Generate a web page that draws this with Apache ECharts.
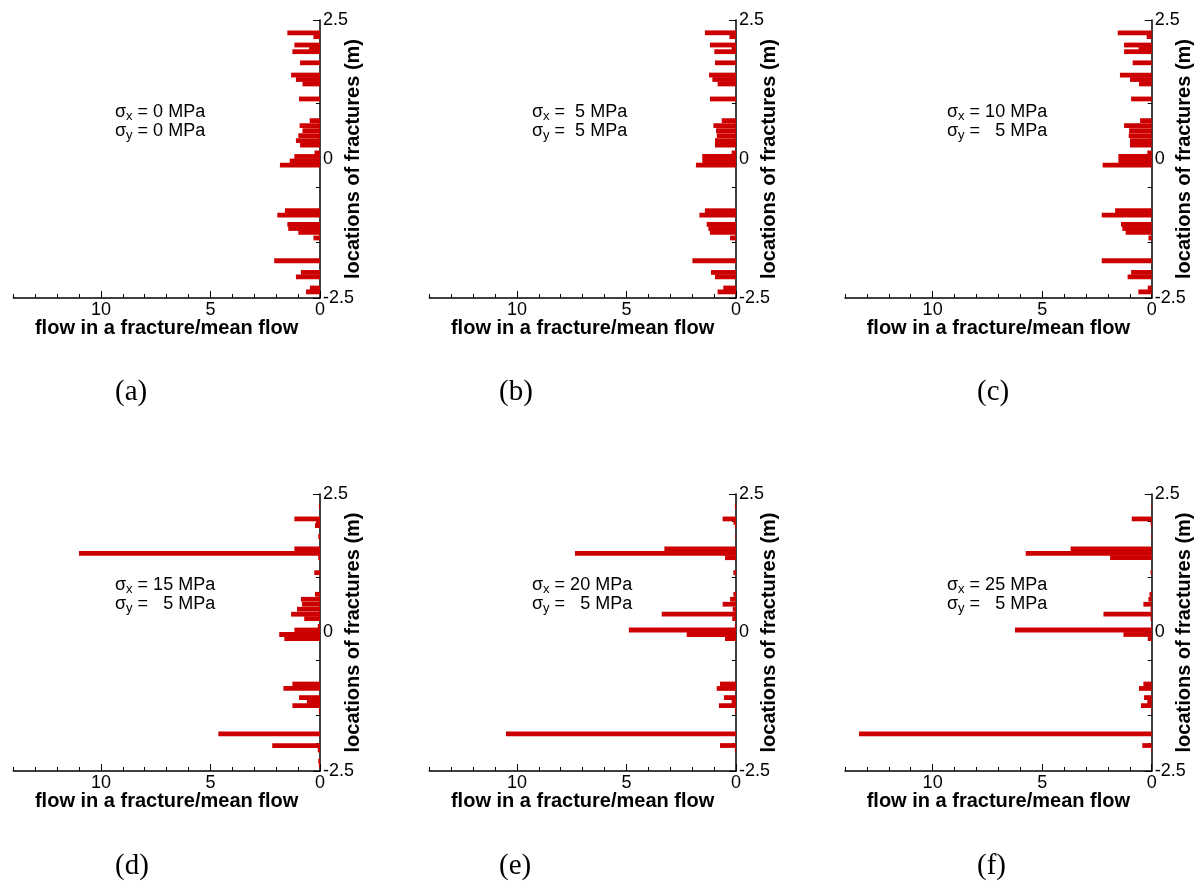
<!DOCTYPE html>
<html>
<head>
<meta charset="utf-8">
<script src="https://cdn.jsdelivr.net/npm/echarts@6/dist/echarts.min.js"></script>
<style>
  html, body { margin: 0; padding: 0; background: #ffffff; }
  #chart { width: 1204px; height: 891px; }
</style>
</head>
<body>
<div id="chart"></div>
<script>
// Fracture centre locations along the section (m), shared by every load case
const fractureLocations = [2.27, 2.20, 2.05, 1.99, 1.93, 1.73, 1.51, 1.43, 1.35, 1.08,
  0.69, 0.60, 0.51, 0.42, 0.33, 0.25, 0.11, 0.045, -0.036, -0.11,
  -0.93, -1.01, -1.175, -1.25, -1.32, -1.42, -1.83, -2.04, -2.12, -2.32, -2.39];

// Normalised flow (flow in a fracture / mean flow) for each load case
const flowA = [1.49, 0.30, 1.17, 0.50, 1.26, 0.91, 1.32, 1.10, 0.80, 0.96,
  0.47, 0.93, 0.80, 0.99, 1.10, 0.91, 0.25, 1.17, 1.38, 1.83,
  1.60, 1.95, 1.49, 1.45, 0.99, 0.30, 2.09, 0.87, 1.10, 0.46, 0.64];
const flowB = [1.42, 0.30, 1.19, 0.20, 0.99, 0.96, 1.23, 1.08, 0.84, 1.19,
  0.65, 1.03, 0.91, 0.88, 0.96, 0.96, 0.20, 1.54, 1.54, 1.83,
  1.42, 1.67, 1.34, 1.26, 1.19, 0.27, 1.99, 1.14, 0.96, 0.58, 0.84];
const flowC = [1.55, 0.23, 1.26, 0.60, 1.26, 0.87, 1.45, 0.99, 0.58, 0.94,
  0.53, 1.26, 1.03, 1.05, 0.99, 0.99, 0.20, 1.52, 1.52, 2.24,
  1.67, 2.28, 1.40, 1.34, 1.19, 0.15, 2.28, 0.94, 1.10, 0.18, 0.61];
const flowD = [0.05, 0.00, 1.17, 0.18, 0.23, 0.08, 1.17, 11.0, 0.08, 0.26,
  0.23, 0.87, 0.82, 1.05, 1.32, 0.72, 0.10, 1.17, 1.86, 1.63,
  1.26, 1.67, 0.96, 0.60, 1.26, 0.05, 4.64, 2.18, 0.10, 0.08, 0.05];
const flowE = [0.05, 0.00, 0.61, 0.12, 0.05, 0.03, 3.27, 7.35, 0.50, 0.12,
  0.12, 0.27, 0.61, 0.15, 3.39, 0.17, 0.05, 4.89, 2.25, 0.50,
  0.73, 0.88, 0.55, 0.20, 0.78, 0.05, 10.5, 0.73, 0.05, 0.00, 0.00];
const flowF = [0.03, 0.00, 0.91, 0.05, 0.03, 0.03, 3.70, 5.75, 1.90, 0.05,
  0.10, 0.15, 0.38, 0.05, 2.20, 0.05, 0.03, 6.24, 1.29, 0.18,
  0.38, 0.58, 0.35, 0.20, 0.49, 0.02, 13.36, 0.43, 0.03, 0.00, 0.00];

const panelFlows = [flowA, flowB, flowC, flowD, flowE, flowF];
const panelLetters = ['(a)', '(b)', '(c)', '(d)', '(e)', '(f)'];
const sigmaXText = [' = 0 MPa', ' =  5 MPa', ' = 10 MPa', ' = 15 MPa', ' = 20 MPa', ' = 25 MPa'];
const sigmaYText = [' = 0 MPa', ' =  5 MPa', ' =   5 MPa', ' =   5 MPa', ' =   5 MPa', ' =   5 MPa'];

const xTickLabels = [0, 5, 10];
const yTickLabels = [-2.5, 0, 2.5];

// Layout of the six panels (pixel frame of each plot area)
const BAR_HALF = 0.043;
const BAR_COLOR = '#cc0000';
const SANS = '"Liberation Sans", Arial, sans-serif';
const SERIF = '"Liberation Serif", "Times New Roman", serif';
const plotWidth = 306.7;
const axisRight = [320, 736, 1151.7];
const rowTop = [20, 494];
const rowHeight = [278, 277];

const grids = [], xAxes = [], yAxes = [], series = [], graphics = [];

panelFlows.forEach((flows, i) => {
  const col = i % 3, row = Math.floor(i / 3);
  const left = axisRight[col] - plotWidth;
  grids.push({ left: left, top: rowTop[row], width: plotWidth, height: rowHeight[row] });

  // main x axis: line, unit ticks and labels
  xAxes.push({
    gridIndex: i, type: 'value', position: 'bottom', inverse: true,
    min: 0, max: 14, interval: 1,
    name: 'flow in a fracture/mean flow', nameLocation: 'middle', nameGap: 20,
    nameMoveOverlap: false,
    nameTextStyle: { fontFamily: SANS, fontSize: 20, fontWeight: 'bold', color: '#000' },
    axisLine: { show: true, onZero: false, lineStyle: { color: '#000', width: 1.5 } },
    axisTick: { show: true, inside: true, length: 4, lineStyle: { color: '#000', width: 1 } },
    axisLabel: { show: true, margin: 3, fontFamily: SANS, fontSize: 18, color: '#000',
      customValues: xTickLabels },
    splitLine: { show: false }
  });
  // longer ticks at the labelled values
  xAxes.push({
    gridIndex: i, type: 'value', position: 'bottom', inverse: true,
    min: 0, max: 14,
    axisLine: { show: false, onZero: false },
    axisTick: { show: true, inside: true, length: 7, customValues: xTickLabels,
      lineStyle: { color: '#000', width: 1 } },
    axisLabel: { show: false },
    splitLine: { show: false }
  });

  yAxes.push({
    gridIndex: i, type: 'value', position: 'right',
    min: -2.5, max: 2.5, interval: 2.5,
    name: 'locations of fractures (m)', nameLocation: 'middle', nameGap: 23, nameRotate: 90,
    nameMoveOverlap: false,
    nameTextStyle: { fontFamily: SANS, fontSize: 20, fontWeight: 'bold', color: '#000' },
    axisLine: { show: true, onZero: false, lineStyle: { color: '#000', width: 1.5 } },
    axisTick: { show: true, inside: true, length: 7, lineStyle: { color: '#000', width: 1 } },
    minorTick: { show: true, splitNumber: 5, length: 4, lineStyle: { color: '#000', width: 1 } },
    axisLabel: { show: true, margin: 3, fontFamily: SANS, fontSize: 18, color: '#000',
      customValues: yTickLabels },
    splitLine: { show: false }
  });

  series.push({
    type: 'custom',
    xAxisIndex: 2 * i, yAxisIndex: i,
    data: flows.map((v, k) => [v, fractureLocations[k]]),
    encode: { x: 0, y: 1 },
    renderItem: function (params, api) {
      const v = api.value(0), loc = api.value(1);
      const p0 = api.coord([0, loc + BAR_HALF]);
      const p1 = api.coord([v, loc - BAR_HALF]);
      return {
        type: 'rect',
        shape: { x: Math.min(p0[0], p1[0]), y: p0[1],
          width: Math.abs(p1[0] - p0[0]), height: p1[1] - p0[1] },
        style: { fill: BAR_COLOR }
      };
    }
  });

  // stress annotation
  const annLeft = [115, 532, 947][col];
  const annTop = [102, 575][row];
  const rich = {
    t: { fontFamily: SANS, fontSize: 18, color: '#000', lineHeight: 19 },
    s: { fontFamily: SANS, fontSize: 13, color: '#000', lineHeight: 19, padding: [8, 0, 0, 0] }
  };
  graphics.push({
    type: 'text', left: annLeft, top: annTop,
    style: { text: '{t|σ}{s|x}{t|' + sigmaXText[i] + '}\n{t|σ}{s|y}{t|' + sigmaYText[i] + '}', rich: rich }
  });

  // panel letter
  graphics.push({
    type: 'text', left: [115, 499, 977][col], top: [378, 852][row],
    style: { text: panelLetters[i], font: '29px ' + SERIF, fill: '#000' }
  });
});

const chart = echarts.init(document.getElementById('chart'), null, { renderer: 'canvas' });
chart.setOption({
  animation: false,
  backgroundColor: '#ffffff',
  grid: grids,
  xAxis: xAxes,
  yAxis: yAxes,
  series: series,
  graphic: graphics
});
</script>
</body>
</html>
